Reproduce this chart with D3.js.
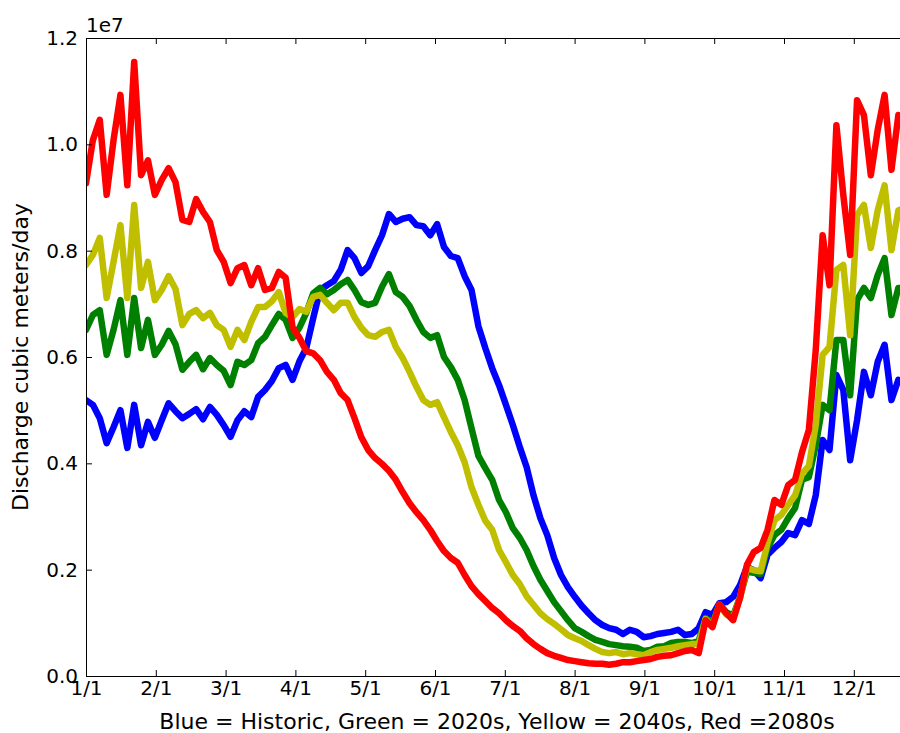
<!DOCTYPE html>
<html>
<head>
<meta charset="utf-8">
<script src="https://d3js.org/d3.v7.min.js"></script>
<style>
  body { margin: 0; background: #fff; }
  text { font-family: "DejaVu Sans", sans-serif; fill: #000; }
</style>
</head>
<body>
<div id="chart"></div>
<script>
// daily discharge, sampled every 3 days starting Jan 1 (units: 1e6 m3/day)
var dayStep = 3;

var monthLabels = ["1/1", "2/1", "3/1", "4/1", "5/1", "6/1", "7/1", "8/1", "9/1", "10/1", "11/1", "12/1"];
var yTicks = [0, 2, 4, 6, 8, 10, 12];

var historic = [5.19, 5.10, 4.85, 4.38, 4.68, 5.00, 4.29, 5.10, 4.34, 4.78,
  4.48, 4.81, 5.13, 4.98, 4.85, 4.93, 5.02, 4.83, 5.06, 4.91,
  4.72, 4.50, 4.81, 4.98, 4.87, 5.25, 5.38, 5.55, 5.79, 5.85,
  5.57, 5.92, 6.17, 6.73, 7.26, 7.35, 7.43, 7.64, 8.01, 7.86,
  7.58, 7.71, 8.01, 8.29, 8.69, 8.54, 8.60, 8.63, 8.48, 8.46,
  8.29, 8.50, 8.07, 7.90, 7.86, 7.52, 7.26, 6.58, 6.17, 5.79,
  5.47, 5.10, 4.72, 4.31, 3.93, 3.40, 2.97, 2.65, 2.22, 1.90,
  1.67, 1.49, 1.32, 1.18, 1.05, 0.96, 0.90, 0.87, 0.79, 0.87,
  0.83, 0.73, 0.75, 0.79, 0.81, 0.83, 0.87, 0.77, 0.79, 0.90,
  1.20, 1.15, 1.37, 1.39, 1.49, 1.71, 2.05, 1.99, 1.84, 2.28,
  2.41, 2.52, 2.69, 2.65, 2.93, 2.86, 3.40, 4.44, 4.25, 5.66,
  5.38, 4.06, 4.81, 5.72, 5.28, 5.91, 6.23, 5.19, 5.57, 5.47,
  5.5, 5.4];

var s2020 = [6.51, 6.79, 6.88, 6.04, 6.51, 7.07, 6.04, 7.11, 6.17, 6.70,
  6.04, 6.23, 6.49, 6.24, 5.76, 5.91, 6.04, 5.77, 5.98, 5.85,
  5.74, 5.47, 5.91, 5.85, 5.94, 6.26, 6.38, 6.60, 6.81, 6.70,
  6.36, 6.55, 6.83, 7.20, 7.30, 7.18, 7.26, 7.37, 7.45, 7.26,
  7.03, 6.98, 7.02, 7.32, 7.56, 7.22, 7.13, 6.96, 6.70, 6.47,
  6.36, 6.41, 6.00, 5.81, 5.57, 5.19, 4.66, 4.14, 3.91, 3.69,
  3.31, 3.08, 2.78, 2.60, 2.37, 2.07, 1.81, 1.60, 1.39, 1.22,
  1.05, 0.90, 0.83, 0.75, 0.68, 0.64, 0.60, 0.58, 0.56, 0.55,
  0.53, 0.47, 0.49, 0.55, 0.56, 0.62, 0.64, 0.64, 0.62, 0.66,
  1.09, 0.98, 1.35, 1.20, 1.13, 1.49, 1.96, 1.94, 1.92, 2.41,
  2.65, 2.75, 2.97, 3.16, 3.69, 3.74, 4.34, 5.10, 5.00, 6.32,
  6.32, 5.28, 7.07, 7.30, 7.11, 7.54, 7.86, 6.79, 7.30, 7.3,
  7.1, 7.0];

var s2040 = [7.73, 7.92, 8.24, 7.11, 7.79, 8.48, 7.11, 8.86, 7.30, 7.79,
  7.07, 7.26, 7.52, 7.28, 6.60, 6.81, 6.88, 6.73, 6.83, 6.60,
  6.51, 6.19, 6.51, 6.32, 6.66, 6.94, 6.94, 7.05, 7.22, 6.83,
  6.75, 6.90, 6.85, 7.13, 7.17, 7.02, 6.88, 7.02, 7.02, 6.75,
  6.55, 6.41, 6.38, 6.47, 6.51, 6.19, 5.98, 5.72, 5.44, 5.19,
  5.10, 5.15, 4.87, 4.59, 4.34, 4.02, 3.55, 3.22, 2.92, 2.75,
  2.37, 2.14, 1.90, 1.73, 1.50, 1.34, 1.18, 1.07, 0.98, 0.88,
  0.77, 0.71, 0.66, 0.58, 0.51, 0.45, 0.43, 0.45, 0.41, 0.43,
  0.41, 0.39, 0.45, 0.49, 0.51, 0.53, 0.56, 0.58, 0.60, 0.60,
  1.07, 0.94, 1.34, 1.16, 1.09, 1.47, 2.03, 1.99, 1.97, 2.50,
  2.93, 3.03, 3.22, 3.40, 3.80, 3.95, 4.72, 6.04, 6.19, 7.64,
  7.73, 6.41, 8.67, 8.86, 8.05, 8.76, 9.23, 8.01, 8.76, 8.8,
  8.6, 8.5];

var s2080 = [9.27, 10.08, 10.46, 9.05, 10.08, 10.93, 9.23, 11.55, 9.42, 9.70,
  9.05, 9.33, 9.55, 9.29, 8.58, 8.54, 8.97, 8.73, 8.54, 8.01,
  7.79, 7.39, 7.67, 7.73, 7.35, 7.67, 7.26, 7.30, 7.60, 7.49,
  6.56, 6.36, 6.11, 6.07, 5.94, 5.72, 5.57, 5.32, 5.19, 4.85,
  4.49, 4.25, 4.10, 3.99, 3.86, 3.69, 3.46, 3.25, 3.08, 2.93,
  2.75, 2.54, 2.35, 2.22, 2.13, 1.90, 1.69, 1.54, 1.41, 1.28,
  1.18, 1.05, 0.94, 0.85, 0.71, 0.60, 0.51, 0.43, 0.38, 0.34,
  0.30, 0.28, 0.26, 0.24, 0.23, 0.23, 0.21, 0.23, 0.26, 0.26,
  0.28, 0.30, 0.32, 0.36, 0.38, 0.39, 0.43, 0.47, 0.49, 0.43,
  1.05, 0.92, 1.35, 1.18, 1.05, 1.47, 2.09, 2.33, 2.41, 2.75,
  3.31, 3.22, 3.59, 3.69, 4.21, 4.63, 6.13, 8.29, 7.35, 10.36,
  9.05, 7.92, 10.83, 10.55, 9.42, 10.27, 10.93, 9.52, 10.55, 10.46,
  10.3, 10.2];

var seriesList = [
  {name: "Historic", color: "#0000ff", values: historic},
  {name: "2020s", color: "#008000", values: s2020},
  {name: "2040s", color: "#bfbf00", values: s2040},
  {name: "2080s", color: "#ff0000", values: s2080}
];

var width = 900, height = 733;
var plotLeft = 86, plotTop = 38, plotRight = 923.6, plotBottom = 676;

var svg = d3.select("#chart").append("svg")
    .attr("width", width)
    .attr("height", height);

var x = d3.scaleLinear().domain([0, 365]).range([plotLeft, plotRight]);
var y = d3.scaleLinear().domain([0, 12]).range([plotBottom, plotTop]);

var monthTicks = monthLabels.map(function(d, i) { return i * 365 / 12; });

svg.append("clipPath").attr("id", "plot-clip")
  .append("rect")
    .attr("x", plotLeft).attr("y", plotTop)
    .attr("width", plotRight - plotLeft).attr("height", plotBottom - plotTop);

var line = d3.line()
    .x(function(d, i) { return x(i * dayStep); })
    .y(function(d) { return y(d); });

svg.append("g")
    .attr("clip-path", "url(#plot-clip)")
  .selectAll("path")
  .data(seriesList)
  .enter().append("path")
    .attr("d", function(d) { return line(d.values); })
    .attr("fill", "none")
    .attr("stroke", function(d) { return d.color; })
    .attr("stroke-width", 6.5)
    .attr("stroke-linejoin", "round")
    .attr("stroke-linecap", "round");

// axes, ticks pointing inward like old matplotlib
svg.append("g")
    .attr("transform", "translate(0," + plotBottom + ")")
    .call(d3.axisBottom(x).tickValues(monthTicks)
      .tickFormat(function(d, i) { return monthLabels[i]; })
      .tickSizeInner(-6).tickSizeOuter(0).tickPadding(5));

svg.append("g")
    .attr("transform", "translate(0," + plotTop + ")")
    .call(d3.axisTop(x).tickValues(monthTicks).tickFormat("")
      .tickSizeInner(-6).tickSizeOuter(0));

svg.append("g")
    .attr("transform", "translate(" + plotLeft + ",0)")
    .call(d3.axisLeft(y).tickValues(yTicks)
      .tickFormat(function(d) { return (d / 10).toFixed(1); })
      .tickSizeInner(-6).tickSizeOuter(0).tickPadding(8));

svg.append("g")
    .attr("transform", "translate(" + plotRight + ",0)")
    .call(d3.axisRight(y).tickValues(yTicks).tickFormat("")
      .tickSizeInner(-6).tickSizeOuter(0));

svg.selectAll(".domain").remove();
svg.selectAll(".tick line").attr("stroke", "#000");
svg.selectAll(".tick text")
    .style("font-size", "20px")
    .style("font-family", "'DejaVu Sans', sans-serif");

svg.append("rect")
    .attr("x", plotLeft + 0.5).attr("y", plotTop + 0.5)
    .attr("width", plotRight - plotLeft).attr("height", plotBottom - plotTop)
    .attr("fill", "none")
    .attr("stroke", "#000")
    .attr("stroke-width", 1);

svg.append("text")
    .attr("x", plotLeft)
    .attr("y", 32)
    .style("font-size", "20px")
    .text("1e7");

svg.append("text")
    .attr("x", 497)
    .attr("y", 729)
    .attr("text-anchor", "middle")
    .style("font-size", "22px")
    .text("Blue = Historic, Green = 2020s, Yellow = 2040s, Red =2080s");

svg.append("text")
    .attr("transform", "translate(28," + ((plotTop + plotBottom) / 2) + ") rotate(-90)")
    .attr("text-anchor", "middle")
    .style("font-size", "22px")
    .text("Discharge cubic meters/day");
</script>
</body>
</html>
